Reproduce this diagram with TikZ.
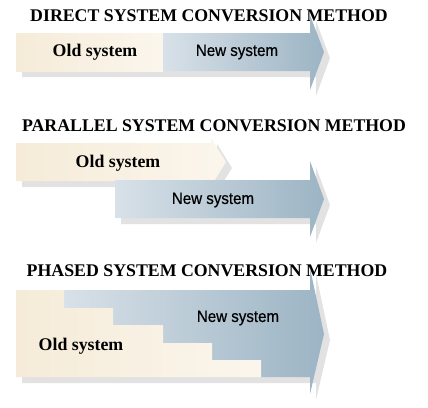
\documentclass[tikz,border=0pt]{standalone}
\usepackage{fontspec}
\setmainfont{Liberation Serif}
\newfontfamily\arialish[FakeStretch=0.92, FakeBold=0.6]{Liberation Sans}
\usepackage{xcolor}
\usepackage{tikz}
\usetikzlibrary{positioning}
\definecolor{oldleft}{RGB}{245,235,216}
\definecolor{oldright}{RGB}{251,246,237}
\definecolor{newleft}{RGB}{216,225,232}
\definecolor{newright}{RGB}{156,180,196}
\definecolor{shadowgray}{RGB}{226,226,226}

\begin{document}
\begin{tikzpicture}[x=1pt, y=-1pt,
  heading/.style={font=\fontsize{17.8}{20}\selectfont\bfseries, inner sep=0pt},
  oldlabel/.style={font=\fontsize{17.8}{20}\selectfont\bfseries, inner sep=0pt},
  newlabel/.style={font=\arialish\fontsize{16.4}{18}\selectfont, inner sep=0pt},
  oldpart/.style={left color=oldleft, right color=oldright},
  newpart/.style={left color=newleft, right color=newright},
  shadow/.style={fill=shadowgray, shift={(6,6)}},
]
  \useasboundingbox (0,0) rectangle (428,407);

  % titles first, the arrow heads lie over them
  \node[heading] (direct) at (209,16) {DIRECT SYSTEM CONVERSION METHOD};
  \node[heading] (parallel) at (214,126) {PARALLEL SYSTEM CONVERSION METHOD};
  \node[heading] (phased) at (207,271) {PHASED SYSTEM CONVERSION METHOD};

  % direct
  \fill[shadow] (16,33) -- (310,33) -- (310,15) -- (324,52) -- (310,90) -- (310,71) -- (16,71) -- cycle;
  \shade[oldpart] (16,33) rectangle (163,71);
  \shade[newpart] (163,33) -- (310,33) -- (310,15) -- (324,52) -- (310,90) -- (310,71) -- (163,71) -- cycle;
  \node[oldlabel] (old1) at (95,52) {Old system};
  \node[newlabel] (new1) at (237,52) {New system};

  % parallel
  \fill[shadow] (16,143) -- (211,143) -- (211,138) -- (226,162) -- (211,186) -- (211,181) -- (16,181) -- cycle;
  \shade[oldpart] (16,143) -- (211,143) -- (211,138) -- (226,162) -- (211,186) -- (211,181) -- (16,181) -- cycle;
  \fill[shadow] (115,180) -- (310,180) -- (310,161) -- (324,199) -- (310,237) -- (310,218) -- (115,218) -- cycle;
  \shade[newpart] (115,180) -- (310,180) -- (310,161) -- (324,199) -- (310,237) -- (310,218) -- (115,218) -- cycle;
  \node[oldlabel] (old2) at (118,163) {Old system};
  \node[newlabel] (new2) at (213,200) {New system};

  % phased
  \fill[shadow] (16,290) -- (310,290) -- (310,268) -- (324,334) -- (310,394) -- (310,377) -- (16,377) -- cycle;
  \shade[newpart] (64,290) -- (310,290) -- (310,268) -- (324,334) -- (310,394) -- (310,377) -- (261,377)
    -- (261,360) -- (212,360) -- (212,343) -- (163,343) -- (163,325) -- (113,325) -- (113,308) -- (64,308) -- cycle;
  \shade[oldpart] (16,290) -- (64,290) -- (64,308) -- (113,308) -- (113,325) -- (163,325) -- (163,343)
    -- (212,343) -- (212,360) -- (261,360) -- (261,377) -- (16,377) -- cycle;
  \node[newlabel] (new3) at (238,318) {New system};
  \node[oldlabel] (old3) at (81,346) {Old system};
\end{tikzpicture}
\end{document}
